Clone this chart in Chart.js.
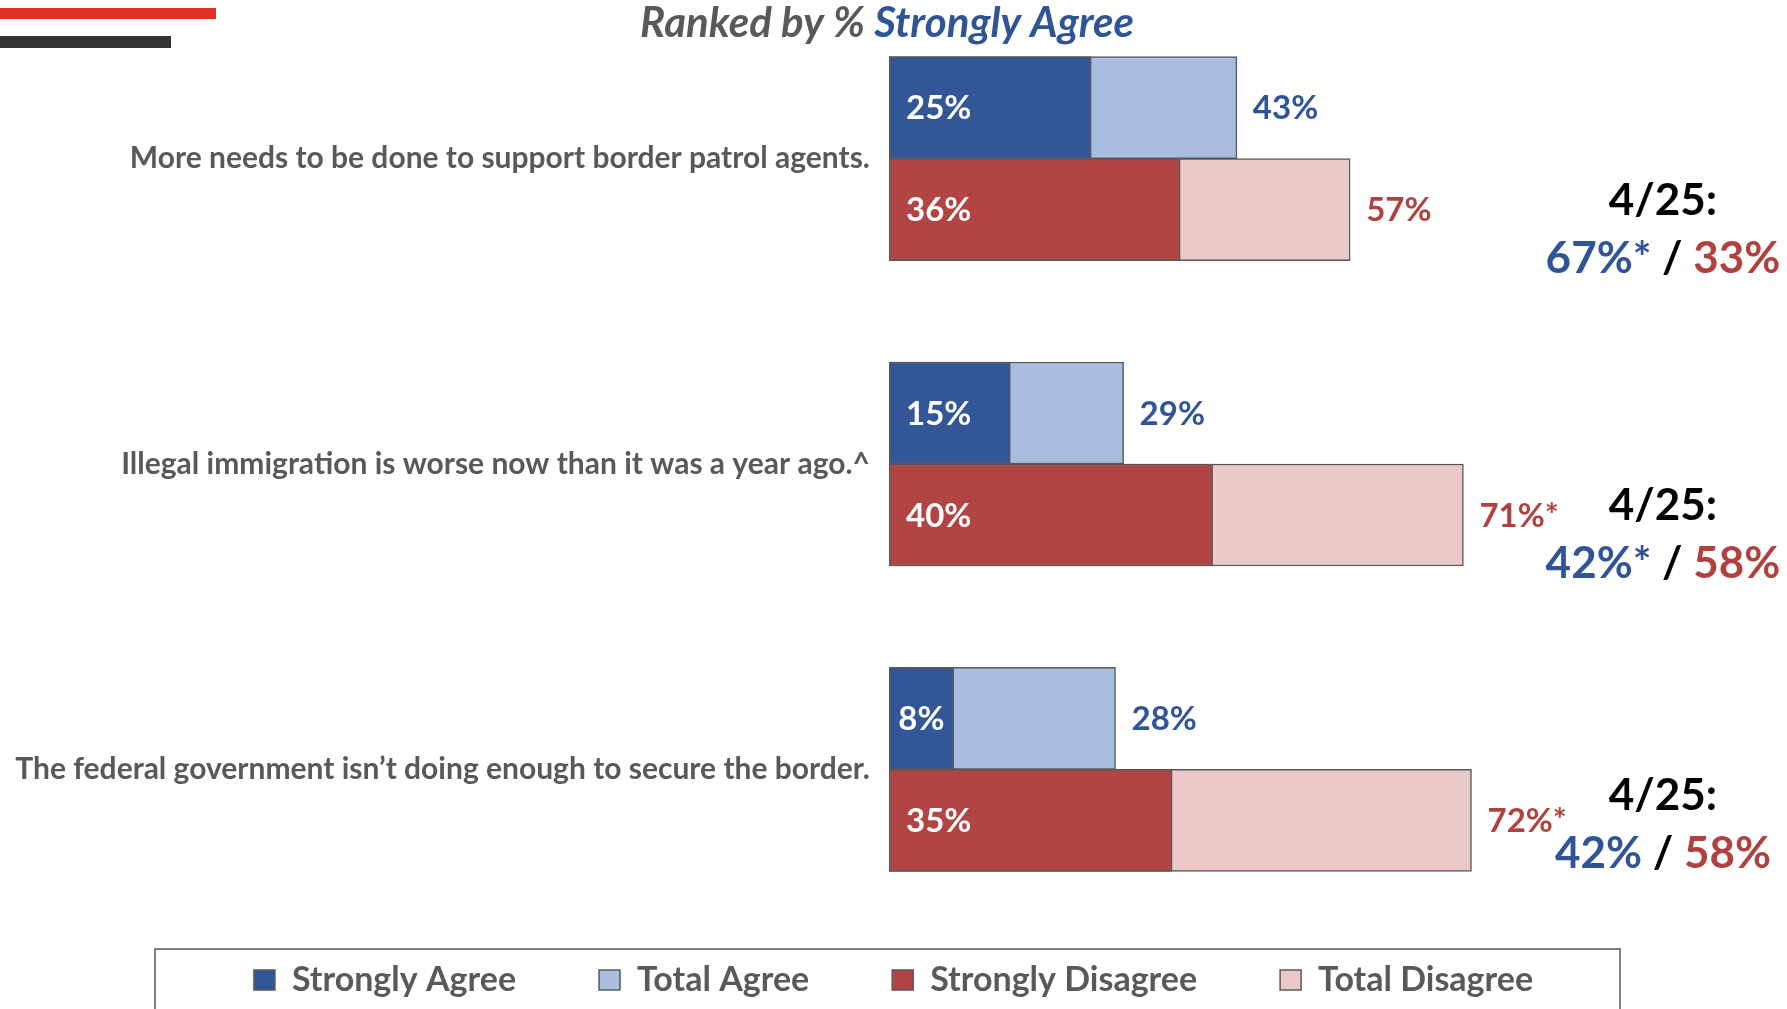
<!DOCTYPE html>
<html>
<head>
<meta charset="utf-8">
<script src="https://cdn.jsdelivr.net/npm/chart.js@4.4.1/dist/chart.umd.min.js"></script>
<style>
  html, body { margin: 0; padding: 0; background: #fff; }
  #wrap { width: 1787px; height: 1009px; position: relative; overflow: hidden; }
</style>
</head>
<body>
<div id="wrap"><canvas id="borderChart" width="1787" height="1009"></canvas></div>
<script>
// Statements, ranked by % strongly agree
const statements = [
  'More needs to be done to support border patrol agents.',
  'Illegal immigration is worse now than it was a year ago.^',
  'The federal government isn\u2019t doing enough to secure the border.'
];

// Series values (%)
const stronglyAgree = [25, 15, 8];
const totalAgree = [43, 29, 28];
const stronglyDisagree = [36, 40, 35];
const totalDisagree = [57, 71, 72];

// significance marks on the total labels
const totalAgreeMark = ['', '', ''];
const totalDisagreeMark = ['', '*', '*'];

// April 2025 comparison on the right
const priorLabel = ['4/25:', '4/25:', '4/25:'];
const priorAgree = ['67%*', '42%*', '42%'];
const priorDisagree = ['33%', '58%', '58%'];

const BLUE = '#2F5597';
const RED = '#B0413E';
const GRAY = '#595959';

// Labels on the bars
const barLabels = {
  id: 'barLabels',
  afterDatasetsDraw(chart) {
    const ctx = chart.ctx;
    ctx.save();
    ctx.textBaseline = 'middle';

    // strongly values: white, inside at the base of the bar
    [0, 2].forEach(di => {
      chart.getDatasetMeta(di).data.forEach((bar, i) => {
        const txt = chart.data.datasets[di].data[i] + '%';
        ctx.font = 'bold 33px Lato';
        ctx.fillStyle = '#fff';
        const w = ctx.measureText(txt).width;
        if (bar.x - bar.base < w + 34) {
          ctx.textAlign = 'center';
          ctx.fillText(txt, (bar.x + bar.base) / 2, bar.y + 1);
        } else {
          ctx.textAlign = 'left';
          ctx.fillText(txt, bar.base + 17, bar.y + 1);
        }
      });
    });

    // totals: outside the end of the bar
    const marks = { 1: totalAgreeMark, 3: totalDisagreeMark };
    [1, 3].forEach(di => {
      chart.getDatasetMeta(di).data.forEach((bar, i) => {
        ctx.font = 'bold 33px Lato';
        ctx.fillStyle = di === 1 ? BLUE : RED;
        ctx.textAlign = 'left';
        ctx.fillText(chart.data.datasets[di].data[i] + '%' + marks[di][i], bar.x + 16, bar.y + 1);
      });
    });
    ctx.restore();
  }
};

// Title, header bars, 4/25 notes and legend frame
const decorations = {
  id: 'decorations',
  afterLayout(chart) {
    // lift the legend row up into its frame (text middle at y=980)
    const lg = chart.legend;
    const labels = lg.options.labels;
    lg.top = 980 - labels.padding - labels.font.size / 2;
    lg.bottom = chart.height;
  },
  afterDraw(chart) {
    const ctx = chart.ctx;
    ctx.save();

    // header bars top left
    ctx.fillStyle = '#E03226';
    ctx.fillRect(0, 8, 216, 11);
    ctx.fillStyle = '#333333';
    ctx.fillRect(0, 36, 171, 12);

    // title in two colours
    ctx.font = 'italic bold 42px Lato';
    ctx.textBaseline = 'alphabetic';
    ctx.textAlign = 'left';
    const t1 = 'Ranked by % ';
    const t2 = 'Strongly Agree';
    const w1 = ctx.measureText(t1).width;
    const w2 = ctx.measureText(t2).width;
    let x = 887 - (w1 + w2) / 2;
    ctx.fillStyle = GRAY;
    ctx.fillText(t1, x, 37);
    ctx.fillStyle = BLUE;
    ctx.fillText(t2, x + w1, 37);

    // 4/25 comparison next to each statement
    const yScale = chart.scales.y;
    const shift = [1, 1, -15];
    ctx.textBaseline = 'middle';
    statements.forEach((s, i) => {
      const yc = yScale.getPixelForValue(i) + shift[i];
      ctx.font = 'bold 44px Lato';
      ctx.textAlign = 'center';
      ctx.fillStyle = '#000';
      ctx.fillText(priorLabel[i], 1663, yc + 41);

      const a = priorAgree[i];
      const sep = ' / ';
      const d = priorDisagree[i];
      const wa = ctx.measureText(a).width;
      const ws = ctx.measureText(sep).width;
      const wd = ctx.measureText(d).width;
      let px = 1663 - (wa + ws + wd) / 2;
      ctx.textAlign = 'left';
      ctx.fillStyle = BLUE;
      ctx.fillText(a, px, yc + 99);
      ctx.fillStyle = '#000';
      ctx.fillText(sep, px + wa, yc + 99);
      ctx.fillStyle = RED;
      ctx.fillText(d, px + wa + ws, yc + 99);
    });

    // frame round the legend
    ctx.strokeStyle = '#7F7F7F';
    ctx.lineWidth = 2;
    ctx.strokeRect(155, 949, 1465, 80);
    ctx.restore();
  }
};

const borderChart = new Chart(document.getElementById('borderChart'), {
  type: 'bar',
  data: {
    labels: statements,
    datasets: [
      { label: 'Strongly Agree', data: stronglyAgree, backgroundColor: '#335696', stack: 'agree' },
      { label: 'Total Agree', data: totalAgree, backgroundColor: '#A9BDE0', stack: 'agree' },
      { label: 'Strongly Disagree', data: stronglyDisagree, backgroundColor: '#B04543', stack: 'disagree' },
      { label: 'Total Disagree', data: totalDisagree, backgroundColor: '#EBC9C8', stack: 'disagree' }
    ]
  },
  options: {
    indexAxis: 'y',
    responsive: false,
    animation: false,
    devicePixelRatio: 1,
    layout: { padding: { top: 6, bottom: 0, left: 0, right: 0 } },
    datasets: {
      bar: { barThickness: 102, borderColor: GRAY, borderWidth: 1.5, borderSkipped: false }
    },
    scales: {
      x: { stacked: false, min: 0, max: 111, display: false },
      y: {
        grid: { display: false, drawTicks: false },
        border: { display: false },
        ticks: { color: GRAY, font: { family: 'Lato', weight: 'bold', size: 30 }, padding: 19 },
        afterFit(scale) {
          scale.width = 889;
          scale.paddingTop = 0;
          scale.paddingBottom = 0;
        }
      }
    },
    plugins: {
      legend: {
        position: 'bottom',
        maxHeight: 87,
        labels: {
          boxWidth: 21,
          boxHeight: 20,
          padding: 83,
          color: GRAY,
          font: { family: 'Lato', weight: 'bold', size: 34 }
        }
      },
      tooltip: { enabled: false }
    }
  },
  plugins: [barLabels, decorations]
});
</script>
</body>
</html>
